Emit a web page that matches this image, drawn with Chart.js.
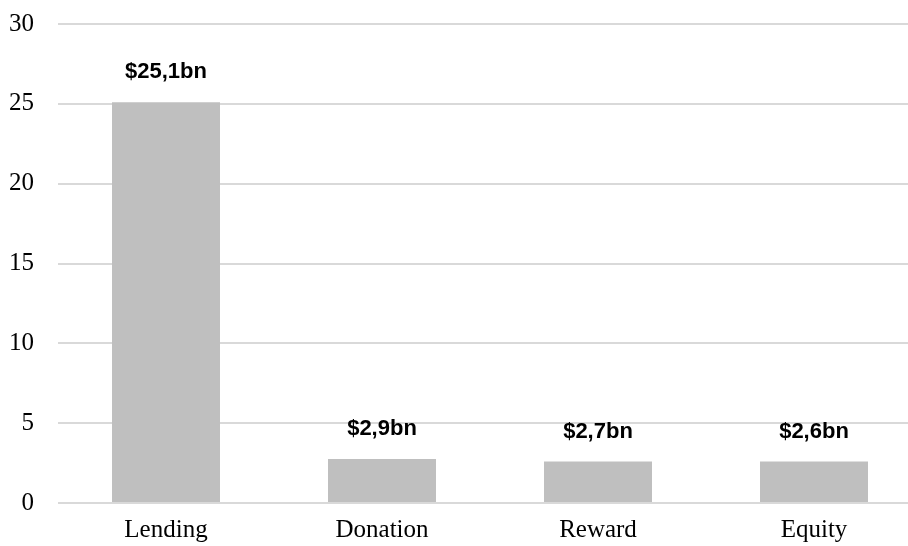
<!DOCTYPE html>
<html>
<head>
<meta charset="utf-8">
<script src="https://cdn.jsdelivr.net/npm/chart.js@4/dist/chart.umd.min.js"></script>
<style>
  html, body { margin: 0; padding: 0; background: #fff; overflow: hidden; }
  #wrap { width: 922px; height: 546px; position: relative; }
</style>
</head>
<body>
<div id="wrap"><canvas id="c"></canvas></div>
<script>
const categories = ['Lending', 'Donation', 'Reward', 'Equity'];
const values = [25.1, 2.75, 2.6, 2.6];
const valueLabels = ['$25,1bn', '$2,9bn', '$2,7bn', '$2,6bn'];
const yTicks = [0, 5, 10, 15, 20, 25, 30];

const labelPlugin = {
  id: 'valueLabels',
  afterDatasetsDraw(chart) {
    const ctx = chart.ctx;
    const meta = chart.getDatasetMeta(0);
    ctx.save();
    ctx.font = 'bold 22px "Liberation Sans", Arial, sans-serif';
    ctx.fillStyle = '#000';
    ctx.textAlign = 'center';
    ctx.textBaseline = 'middle';
    meta.data.forEach((bar, i) => {
      ctx.fillText(valueLabels[i], bar.x, bar.y - 30);
    });
    ctx.restore();
  }
};

new Chart(document.getElementById('c'), {
  type: 'bar',
  data: {
    labels: categories,
    datasets: [{
      data: values,
      backgroundColor: '#bfbfbf',
      borderWidth: 0,
      barPercentage: 0.5,
      categoryPercentage: 1.0
    }]
  },
  options: {
    responsive: true,
    maintainAspectRatio: false,
    animation: false,
    layout: { padding: { top: 24, left: 0, right: 0, bottom: 0 } },
    plugins: { legend: { display: false }, tooltip: { enabled: false } },
    scales: {
      x: {
        grid: { display: false, drawTicks: false },
        border: { display: false },
        ticks: {
          color: '#000',
          padding: 12,
          font: { family: '"Liberation Serif", "Times New Roman", serif', size: 25 }
        },
        afterFit(scale) { scale.height = 43; }
      },
      y: {
        min: 0,
        max: 30,
        afterBuildTicks(scale) { scale.ticks = yTicks.map(v => ({ value: v })); },
        grid: { color: '#d9d9d9', lineWidth: 2, drawTicks: false },
        border: { display: false },
        ticks: {
          color: '#000',
          padding: 24,
          font: { family: '"Liberation Serif", "Times New Roman", serif', size: 25 }
        },
        afterFit(scale) { scale.width = 58; scale.paddingTop = 0; scale.paddingBottom = 0; }
      }
    }
  },
  plugins: [labelPlugin]
});
</script>
</body>
</html>
